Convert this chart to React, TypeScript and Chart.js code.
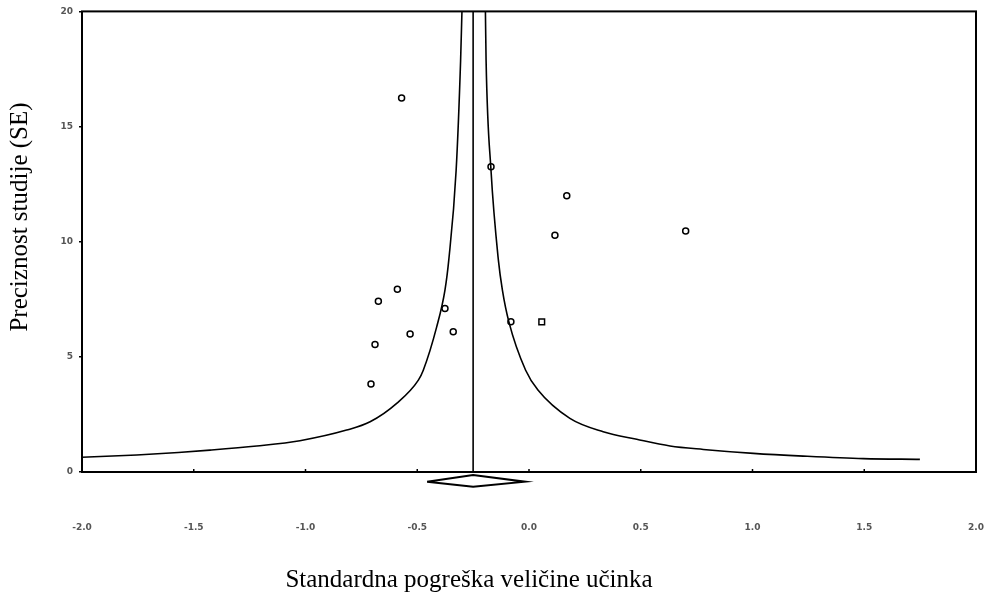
import React, { useEffect, useRef } from "react";
import { Chart, registerables } from "chart.js";

Chart.register(...registerables);

// ---- data ----
const studyX = [-0.570, -0.170, 0.169, 0.116, 0.701, -0.589, -0.674, -0.376, -0.339, -0.532, -0.081, 0.057, -0.689, -0.707];
const studyY = [16.24, 13.25, 12.0, 10.28, 10.46, 7.94, 7.41, 7.1, 6.09, 5.99, 6.52, 6.52, 5.54, 3.82];
const studyMarker = ["circle", "circle", "circle", "circle", "circle", "circle", "circle", "circle", "circle", "circle", "circle", "rect", "circle", "circle"];

const funnelLeftX = [-2.0, -1.755, -1.569, -1.427, -1.218, -1.025, -0.816, -0.711, -0.592, -0.495, -0.473, -0.413, -0.376, -0.359, -0.326, -0.306, -0.3];
const funnelLeftY = [0.64, 0.74, 0.85, 0.95, 1.13, 1.36, 1.82, 2.18, 2.98, 3.99, 4.42, 6.3, 7.9, 9.2, 13.1, 17.87, 20];
const funnelRightX = [-0.195, -0.192, -0.17, -0.137, -0.119, -0.09, -0.015, 0.04, 0.183, 0.332, 0.482, 0.631, 0.78, 1.004, 1.227, 1.496, 1.749];
const funnelRightY = [20, 17.87, 13.1, 9.2, 7.9, 6.52, 4.42, 3.56, 2.33, 1.75, 1.42, 1.13, 0.98, 0.81, 0.69, 0.58, 0.55];

const pooledEffect = -0.25;
const pooledLineY = [0, 20];
const diamondX = [-0.456, -0.25, -0.018, -0.25, -0.456];
const diamondY = [-0.42, -0.13, -0.42, -0.64, -0.42];

const xTickValues = [-2, -1.5, -1, -0.5, 0, 0.5, 1, 1.5, 2];
const xTickLabels = ["-2.0", "-1.5", "-1.0", "-0.5", "0.0", "0.5", "1.0", "1.5", "2.0"];
const yTickValues = [0, 5, 10, 15, 20];
const yTickLabels = ["0", "5", "10", "15", "20"];

const xTitle = "Standardna pogreška veličine učinka";
const yTitle = "Preciznost studije (SE)";

const zip = (xs: number[], ys: number[]) => xs.map((x, i) => ({ x, y: ys[i] }));

const framePlugin = {
  id: "frame",
  afterDatasetsDraw(chart: any) {
    const { ctx, chartArea, scales } = chart;
    const { left, top, right, bottom } = chartArea;
    ctx.save();
    ctx.strokeStyle = "#000";
    ctx.lineWidth = 2;
    ctx.strokeRect(left, top, right - left, bottom - top);
    ctx.lineWidth = 1.5;
    scales.x.ticks.forEach((t: any) => {
      const px = scales.x.getPixelForValue(t.value);
      ctx.beginPath();
      ctx.moveTo(px, bottom);
      ctx.lineTo(px, bottom - 3);
      ctx.stroke();
    });
    ctx.fillStyle = "#000";
    ctx.font = '25px "Liberation Serif"';
    ctx.textAlign = "center";
    ctx.textBaseline = "middle";
    ctx.fillText(xTitle, 469, 580);
    ctx.translate(20, 217);
    ctx.rotate(-Math.PI / 2);
    ctx.fillText(yTitle, 0, 0);
    ctx.restore();
  },
};

export default function App() {
  const ref = useRef<HTMLCanvasElement | null>(null);

  useEffect(() => {
    if (!ref.current) return;
    const lineStyle = {
      showLine: true,
      borderColor: "#000",
      borderWidth: 1.6,
      pointRadius: 0,
      fill: false,
      tension: 0,
    };
    const chart = new Chart(ref.current, {
      type: "scatter",
      data: {
        datasets: [
          { ...lineStyle, cubicInterpolationMode: "monotone", data: zip(funnelLeftX, funnelLeftY) } as any,
          { ...lineStyle, cubicInterpolationMode: "monotone", data: zip(funnelRightX, funnelRightY) } as any,
          { ...lineStyle, data: pooledLineY.map((y) => ({ x: pooledEffect, y })) },
          { ...lineStyle, borderWidth: 2, clip: false, data: zip(diamondX, diamondY) } as any,
          {
            data: zip(studyX, studyY),
            pointStyle: studyMarker as any,
            pointRadius: studyMarker.map((m) => (m === "rect" ? 4 : 3)),
            pointBorderWidth: 1.5,
            borderColor: "#000",
            backgroundColor: "#fff",
            showLine: false,
          },
        ],
      },
      options: {
        responsive: false,
        animation: false,
        devicePixelRatio: 1,
        layout: { padding: { top: 11, right: 13, left: 0, bottom: 0 } },
        plugins: { legend: { display: false }, tooltip: { enabled: false }, title: { display: false } },
        scales: {
          x: {
            type: "linear",
            min: -2,
            max: 2,
            afterBuildTicks: (scale: any) => {
              scale.ticks = xTickValues.map((v) => ({ value: v }));
            },
            afterFit: (scale: any) => {
              scale.height = 124;
            },
            grid: { display: false, drawTicks: true, tickLength: 50 },
            border: { display: false },
            ticks: {
              padding: 0,
              color: "#555",
              font: { family: "DejaVu Sans", size: 9, weight: "bold" },
              callback: (v: any) => {
                const i = xTickValues.indexOf(Number(v));
                return i >= 0 ? xTickLabels[i] : "";
              },
            },
          },
          y: {
            type: "linear",
            min: 0,
            max: 20,
            afterBuildTicks: (scale: any) => {
              scale.ticks = yTickValues.map((v) => ({ value: v }));
            },
            afterFit: (scale: any) => {
              scale.width = 82;
            },
            grid: { display: true, drawOnChartArea: false, drawTicks: true, tickLength: 3, color: "#000", lineWidth: 1.5 },
            border: { display: false },
            ticks: {
              padding: 6,
              color: "#555",
              font: { family: "DejaVu Sans", size: 9, weight: "bold" },
              callback: (v: any) => {
                const i = yTickValues.indexOf(Number(v));
                return i >= 0 ? yTickLabels[i] : "";
              },
            },
          },
        },
      },
      plugins: [framePlugin],
    });
    return () => chart.destroy();
  }, []);

  return (
    <div style={{ position: "absolute", left: 0, top: 0, width: 989, height: 596, background: "#fff" }}>
      <canvas ref={ref} width={989} height={596} style={{ display: "block" }} />
    </div>
  );
}
